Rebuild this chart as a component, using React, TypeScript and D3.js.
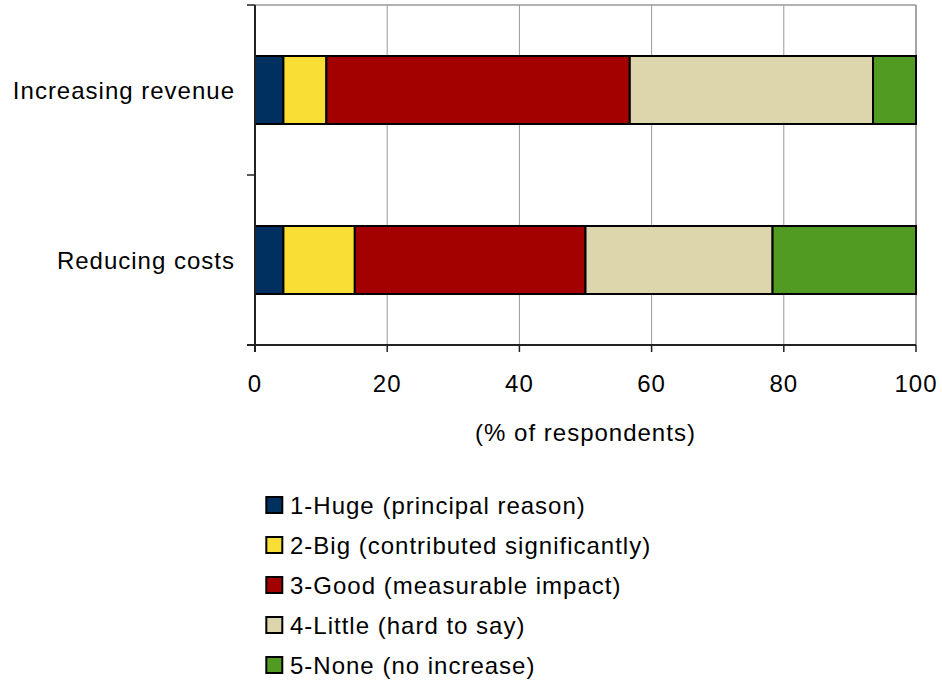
import React from "react";
import * as d3 from "d3";

const categories = ["Increasing revenue", "Reducing costs"];
const seriesNames = [
  "1-Huge (principal reason)",
  "2-Big (contributed significantly)",
  "3-Good (measurable impact)",
  "4-Little (hard to say)",
  "5-None (no increase)",
];
const seriesColors = ["#00305f", "#f8de35", "#a30000", "#ddd6ad", "#529b23"];
const huge = [4.3, 4.3];
const big = [6.5, 10.8];
const good = [45.9, 34.9];
const little = [36.8, 28.3];
const none = [6.5, 21.7];
const xTicks = [0, 20, 40, 60, 80, 100];

export default function App() {
  const W = 942, H = 682;
  const left = 255, right = 916, top = 5, bottom = 345;
  const x = d3.scaleLinear().domain([0, 100]).range([left, right]);
  const y = d3.scaleBand().domain(categories).range([top, bottom]).paddingInner(0.6).paddingOuter(0.3);
  const rows = categories.map((c, i) => ({ cat: c, huge: huge[i], big: big[i], good: good[i], little: little[i], none: none[i] }));
  const keys = ["huge", "big", "good", "little", "none"];
  const stacked = d3.stack<any>().keys(keys)(rows);
  const font = "Liberation Sans, Arial, sans-serif";
  const bandStep = (bottom - top) / categories.length;
  const catTicks = d3.range(categories.length + 1).map((i) => top + i * bandStep);
  const fs = 24;
  const ls = 1;

  return (
    <svg width={W} height={H} style={{ position: "absolute", left: 0, top: 0 }} fontFamily={font}>
      <rect width={W} height={H} fill="#fff" />
      {xTicks.slice(1).map((t) => (
        <line key={t} x1={x(t)} x2={x(t)} y1={top} y2={bottom} stroke="#999" strokeWidth={1} />
      ))}
      <line x1={left} x2={right} y1={top} y2={top} stroke="#999" strokeWidth={1.5} />
      <line x1={right} x2={right} y1={top} y2={bottom} stroke="#999" strokeWidth={1.5} />
      {stacked.map((s, si) =>
        s.map((d, i) => (
          <rect
            key={si + "-" + i}
            x={x(d[0])}
            y={y(categories[i])!}
            width={x(d[1]) - x(d[0])}
            height={y.bandwidth()}
            fill={seriesColors[si]}
            stroke="#000"
            strokeWidth={2}
          />
        ))
      )}
      <line x1={left} x2={left} y1={top} y2={bottom + 7} stroke="#222" strokeWidth={2} />
      <line x1={left - 8} x2={right} y1={bottom} y2={bottom} stroke="#222" strokeWidth={2} />
      {catTicks.map((t, i) => (
        <line key={i} x1={left - 8} x2={left} y1={t} y2={t} stroke="#222" strokeWidth={1.5} />
      ))}
      {xTicks.map((t) => (
        <g key={t}>
          <line x1={x(t)} x2={x(t)} y1={bottom} y2={bottom + 7} stroke="#222" strokeWidth={1.5} />
          <text x={x(t)} y={392} textAnchor="middle" fontSize={fs} letterSpacing={ls} fill="#000">{t}</text>
        </g>
      ))}
      {categories.map((c) => (
        <text key={c} x={235} y={y(c)! + y.bandwidth() / 2 + 9} textAnchor="end" fontSize={fs} letterSpacing={ls} fill="#000">{c}</text>
      ))}
      <text x={(left + right) / 2} y={441} textAnchor="middle" fontSize={fs} letterSpacing={ls} fill="#000">(% of respondents)</text>
      {seriesNames.map((n, i) => {
        const cy = 505 + i * 40;
        return (
          <g key={n}>
            <rect x={266.3} y={cy - 8} width={16} height={16} fill={seriesColors[i]} stroke="#000" strokeWidth={2} />
            <text x={290} y={cy + 8.5} fontSize={fs} letterSpacing={ls} fill="#000">{n}</text>
          </g>
        );
      })}
    </svg>
  );
}
